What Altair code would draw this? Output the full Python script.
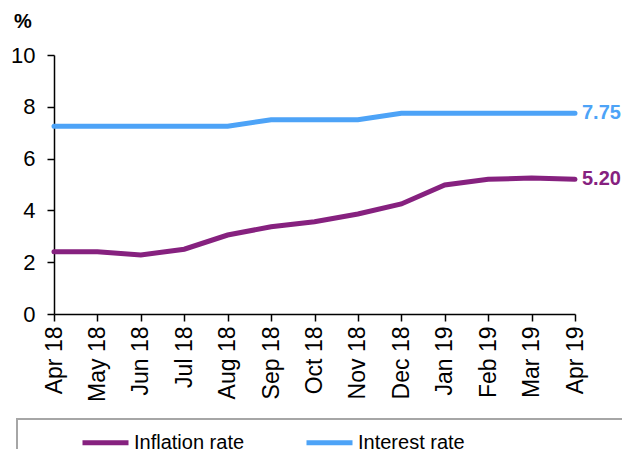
import altair as alt
import pandas as pd

months = ["Apr 18", "May 18", "Jun 18", "Jul 18", "Aug 18", "Sep 18", "Oct 18",
          "Nov 18", "Dec 18", "Jan 19", "Feb 19", "Mar 19", "Apr 19"]
inflation = [2.40, 2.40, 2.28, 2.50, 3.05, 3.37, 3.56, 3.86, 4.25, 4.98, 5.20, 5.25, 5.20]
interest = [7.25, 7.25, 7.25, 7.25, 7.25, 7.50, 7.50, 7.50, 7.75, 7.75, 7.75, 7.75, 7.75]
series_names = ["Inflation rate", "Interest rate"]
colors = ["#86217F", "#4DA3F7"]
end_labels = ["5.20", "7.75"]

FONT = "Liberation Sans"

rows = []
for m, v in zip(months, inflation):
    rows.append({"month": m, "value": v, "series": series_names[0]})
for m, v in zip(months, interest):
    rows.append({"month": m, "value": v, "series": series_names[1]})
df = pd.DataFrame(rows)

ends = pd.DataFrame({
    "month": [months[-1], months[-1]],
    "value": [inflation[-1], interest[-1]],
    "series": series_names,
    "label": end_labels,
})

x_scale = alt.Scale(type="point", padding=0, domain=months)
y_scale = alt.Scale(domain=[0, 10])
c_scale = alt.Scale(domain=series_names, range=colors)

x_enc = alt.X("month:N", sort=months, scale=x_scale,
              axis=alt.Axis(title=None, labelAngle=-90, labelFontSize=23, labelFont=FONT,
                            labelColor="black", tickSize=7, tickColor="black",
                            domainColor="black", domainWidth=1.5, tickWidth=1.5,
                            labelPadding=5, grid=False))
y_enc = alt.Y("value:Q", scale=y_scale,
              axis=alt.Axis(title=None, values=[0, 2, 4, 6, 8, 10], labelFontSize=22,
                            labelFont=FONT, labelColor="black", tickSize=7,
                            tickColor="black", domainColor="black", domainWidth=1.5,
                            tickWidth=1.5, grid=False, labelPadding=12))
color_enc = alt.Color("series:N", scale=c_scale,
                      legend=alt.Legend(title=None, orient="none", legendX=26, legendY=362,
                                        direction="horizontal", symbolType="stroke",
                                        symbolSize=2116, symbolStrokeWidth=5,
                                        labelFontSize=20, labelFont=FONT, labelColor="black",
                                        labelOffset=3, columnPadding=51, padding=0,
                                        labelLimit=300))

lines = alt.Chart(df).mark_line(strokeWidth=5, strokeCap="round").encode(
    x=x_enc, y=y_enc, color=color_enc)

labels = alt.Chart(ends).mark_text(align="left", dx=7, fontSize=20, fontWeight="bold",
                                   font=FONT).encode(
    x=alt.X("month:N", sort=months, scale=x_scale),
    y=alt.Y("value:Q", scale=y_scale),
    text="label:N",
    color=alt.Color("series:N", scale=c_scale))

pct = alt.Chart(pd.DataFrame({"t": ["%"]})).mark_text(
    fontSize=20, fontWeight="bold", font=FONT, color="black").encode(
    x=alt.value(-31), y=alt.value(-33), text="t:N")

box = alt.Chart(pd.DataFrame({"a": [0]})).mark_rect(
    fill="white", stroke="#A6A6A6", strokeWidth=2).encode(
    x=alt.value(-37), x2=alt.value(620), y=alt.value(364), y2=alt.value(460))

chart = alt.layer(box, lines, labels, pct).properties(
    width=521, height=259,
    autosize=alt.AutoSizeParams(type="none"),
    padding={"left": 46, "top": 47, "right": 47, "bottom": 135},
).configure(background="white").configure_view(stroke=None).configure_axis(grid=False)

chart.save("out.html", embed_options={"renderer": "svg", "actions": False})
